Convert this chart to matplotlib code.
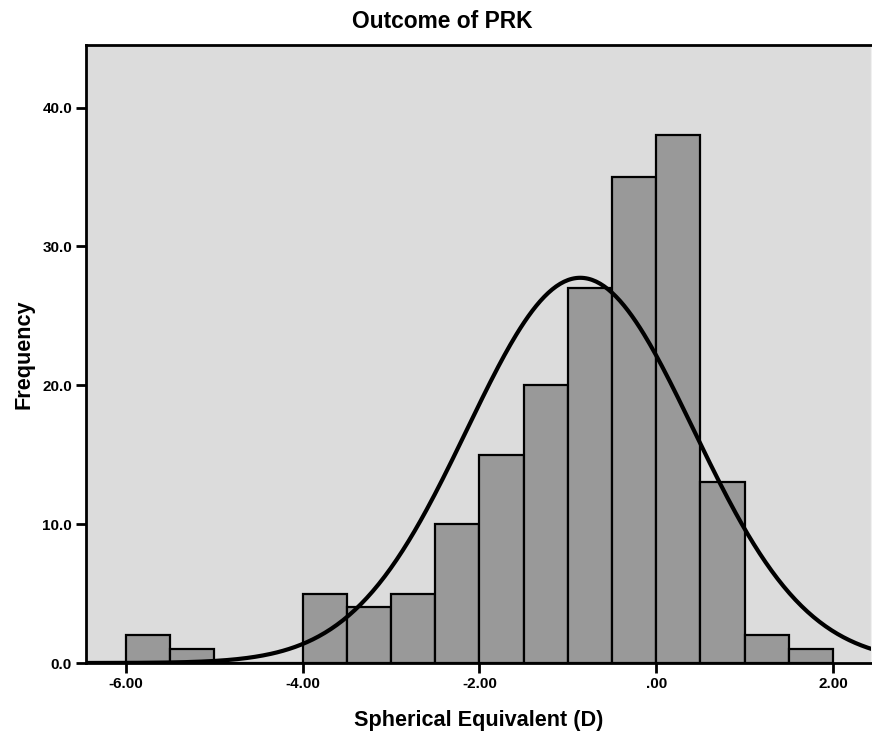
import numpy as np
import matplotlib

matplotlib.use("Agg")
import matplotlib.pyplot as plt

# ---------------------------------------------------------------
# Data
# ---------------------------------------------------------------
BIN_EDGES = [-6.0, -5.5, -5.0, -4.5, -4.0, -3.5, -3.0, -2.5, -2.0,
             -1.5, -1.0, -0.5, 0.0, 0.5, 1.0, 1.5, 2.0]
COUNTS = [2, 1, 0, 0, 5, 4, 5, 10, 15, 20, 27, 35, 38, 13, 2, 1]
FIT_MEAN = -0.86
FIT_SD = 1.28
X_TICKS = [-6.0, -4.0, -2.0, 0.0, 2.0]
X_TICK_LABELS = ["-6.00", "-4.00", "-2.00", ".00", "2.00"]
Y_TICKS = [0, 10, 20, 30, 40]
Y_TICK_LABELS = ["0.0", "10.0", "20.0", "30.0", "40.0"]

plt.rcParams["font.family"] = ["Liberation Sans", "DejaVu Sans"]

fig = plt.figure(figsize=(8.72, 7.31), dpi=100)
ax = fig.add_axes([0.0986, 0.093, 0.9004, 0.8454])
ax.set_facecolor("#dcdcdc")

edges = np.array(BIN_EDGES)
widths = np.diff(edges)
ax.bar(edges[:-1], COUNTS, width=widths, align="edge",
       color="#999999", edgecolor="black", linewidth=1.6, zorder=2)

# normal curve scaled to counts
n_total = sum(COUNTS)
bw = widths[0]
xs = np.linspace(-6.5, 2.5, 400)
ys = n_total * bw / (FIT_SD * np.sqrt(2 * np.pi)) * np.exp(-0.5 * ((xs - FIT_MEAN) / FIT_SD) ** 2)
ax.plot(xs, ys, color="black", linewidth=3, zorder=3)

ax.set_xlim(-6.45, 2.43)
ax.set_ylim(0, 44.5)
ax.set_xticks(X_TICKS)
ax.set_xticklabels(X_TICK_LABELS)
ax.set_yticks(Y_TICKS)
ax.set_yticklabels(Y_TICK_LABELS)
ax.tick_params(axis="both", direction="out", length=7, width=2,
               labelsize=11, pad=3)
for lab in ax.get_xticklabels() + ax.get_yticklabels():
    lab.set_fontweight("bold")

for side in ["left", "bottom", "top"]:
    ax.spines[side].set_linewidth(2)
    ax.spines[side].set_color("black")
ax.spines["right"].set_color("#f0f0f0")
ax.spines["right"].set_linewidth(1)

ax.set_xlabel("Spherical Equivalent (D)", fontsize=15.6, fontweight="bold", labelpad=14)
ax.set_ylabel("Frequency", fontsize=15.6, fontweight="bold", labelpad=6)
fig.text(442 / 872, 1 - 22 / 731, "Outcome of PRK", ha="center", va="center",
         fontsize=16.4, fontweight="bold")

fig.savefig("out.png", dpi=100)
